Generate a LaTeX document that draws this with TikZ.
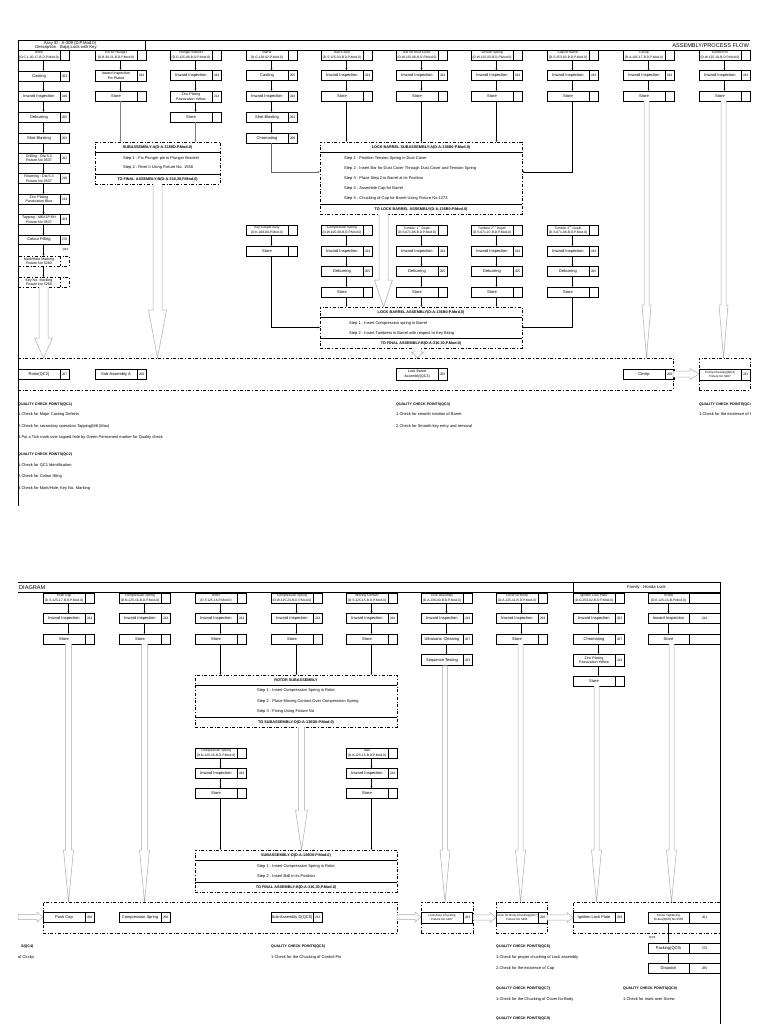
\documentclass[tikz,border=0pt]{standalone}
\usepackage{fontspec}
\setmainfont{Liberation Sans}
\usetikzlibrary{arrows.meta, positioning, calc}

\newcommand{\hdfont}{\fontsize{3}{3.6}\selectfont}
\newcommand{\partfont}{\fontsize{3.3}{3.8}\selectfont}
\newcommand{\boxfont}{\fontsize{4}{4.5}\selectfont}
\newcommand{\twofont}{\fontsize{3.6}{4.1}\selectfont}
\newcommand{\codefont}{\fontsize{3.4}{4}\selectfont}
\newcommand{\assyfont}{\fontsize{4.2}{4.6}\selectfont}
\newcommand{\sahfont}{\fontsize{3.8}{4.2}\selectfont}
\newcommand{\qcfont}{\fontsize{4}{4.5}\selectfont}
\newcommand{\qchfont}{\fontsize{3.6}{4}\selectfont}
\newcommand{\titlefont}{\fontsize{5.6}{6}\selectfont}

% Prozesskasten: Rahmen, Trennstrich, Text, Code
\newcommand{\procbox}[6][]{%
  \node[pbox,#1] (#2) at (#3,#4) {};
  \draw[line width=0.7pt,#1] ([xshift=-9pt]#2.north east) -- ([xshift=-9pt]#2.south east);
  \node[ptext] (#2t) at ([xshift=-4.5pt]#2.center) {#5};
  \node[pcode] (#2k) at ([xshift=-4.5pt]#2.east) {#6};}
% breiter Kasten (Schraube)
\newcommand{\procwide}[6][]{%
  \node[pbox,minimum width=41pt,#1] (#2) at (#3,#4) {};
  \node[ptext] (#2t) at (#2.center) {#5};
  \node[pbox,minimum width=31pt,#1] (#2c) at (#2.north east) {};
  \node[pcode] (#2k) at (#2c.center) {#6};}
% Teilekopf
\newcommand{\partbox}[5]{\procbox{#1}{#2}{#3}{\partfont #4\\\partfont (#5)}{}}
% Unterbaugruppe
\newcommand{\subbox}[7]{%
  \node[sabox, minimum width=#4pt, minimum height=#5pt] (#1) at (#2,#3) {};
  \draw[line width=0.6pt] ([yshift=-10.5pt]#1.north west) -- ([yshift=-10.5pt]#1.north east);
  \draw[line width=0.6pt] ([yshift=9.5pt]#1.south west) -- ([yshift=9.5pt]#1.south east);
  \node[sahead] (#1h) at ([yshift=-5.25pt]#1.north) {#6};
  \node[sahead] (#1f) at ([yshift=4.75pt]#1.south) {#7};}
% Hohlpfeile
\newcommand{\vhollow}[5]{%
  \path[hollow] let \p1=#1, \p2=#2 in
    (\x1-#3pt,\y1) -- (\x1-#3pt,\y2+#5pt) -- (\x1-#4pt,\y2+#5pt) -- (\x1,\y2)
    -- (\x1+#4pt,\y2+#5pt) -- (\x1+#3pt,\y2+#5pt) -- (\x1+#3pt,\y1);}
\newcommand{\hhollow}[5]{%
  \path[hollow] let \p1=#1, \p2=#2 in
    (\x1,\y1+#3pt) -- (\x2-#5pt,\y1+#3pt) -- (\x2-#5pt,\y1+#4pt) -- (\x2,\y1)
    -- (\x2-#5pt,\y1-#4pt) -- (\x2-#5pt,\y1-#3pt) -- (\x1,\y1-#3pt) -- cycle;}

\begin{document}
\begin{tikzpicture}[x=1pt, y=-1pt,
    pbox/.style={draw, line width=0.7pt, minimum width=51pt, minimum height=10pt, inner sep=0pt, outer sep=0pt, anchor=north west},
    ptext/.style={font=\boxfont, align=center, inner sep=0pt},
    pcode/.style={font=\codefont, inner sep=0pt},
    flow/.style={-{Latex[length=2.2pt,width=1.8pt]}, line width=0.35pt},
    sabox/.style={draw, dash dot, line width=0.6pt, inner sep=0pt, outer sep=0pt, anchor=north west},
    sahead/.style={font=\sahfont\bfseries, inner sep=0pt},
    stp/.style={font=\boxfont, anchor=west, inner sep=0pt},
    band/.style={draw, dash dot, line width=0.6pt, inner sep=0pt, outer sep=0pt, anchor=north west},
    hollow/.style={draw=gray!65, fill=white, line width=0.5pt},
    qchead/.style={font=\qchfont\bfseries, anchor=west, inner sep=0pt},
    qcline/.style={font=\qcfont, anchor=west, inner sep=0pt},
    frame/.style={line width=0.8pt}]
  % Bildbereich
  \fill[white] (0,0) rectangle (768,1024);
  \useasboundingbox (0,0) rectangle (768,1024);

  %%%%%%%%%% obere Haelfte %%%%%%%%%%
  % Kopfzeile
  \draw[frame] (18,40) -- (750,40);
  \draw[frame] (18,50) -- (750,50);
  \draw[frame] (145,40) -- (145,50);
  \draw[frame] (18,40) -- (18,506);
  \node[font=\assyfont, inner sep=0pt] (assy) at (70,43) {Assy ID : A-309 (D.P.Mod.0)};
  \node[font=\assyfont, inner sep=0pt] (desc) at (66,47.6) {Description : Bajaj Lock with Key};
  \node[font=\titlefont, anchor=east, inner sep=0pt] (titleA) at (749,45.3) {ASSEMBLY/PROCESS FLOW};

  % Spalte 1: Rotor
  \partbox{rot}{18}{50}{Rotor}{D.C.1-30-17-B.D.P.Mod.0}
  \procbox{rotA}{18}{71}{Casting}{J03}
  \procbox{rotB}{18}{91.5}{Inward Inspection}{J40}
  \procbox{rotC}{18}{112}{Deburring}{J05}
  \procbox{rotD}{18}{133}{Shot Blasting}{J03}
  \procbox{rotE}{18}{153}{\twofont Drilling : Dia 5.3\\\twofont Fixture No 0537}{J02}
  \procbox{rotF}{18}{173.5}{\twofont Reaming : Dia 5.3\\\twofont Fixture No 0537}{J10}
  \procbox{rotG}{18}{194}{\twofont Zinc Plating\\\twofont Passivation Blue}{J14}
  \procbox{rotH}{18}{214.5}{\twofont Tapping : M6X1P-6H\\\twofont Fixture No 0537}{J03}
  \procbox[minimum height=8.5pt]{rotI}{18}{235.5}{Colour Filling}{J70}
  \procbox[dash dot]{rotJ}{18}{256}{\twofont Mark/Hole Marking\\\twofont Fixture No 5260}{}
  \procbox[dash dot]{rotK}{18}{277}{\twofont Key No. Marking\\\twofont Fixture No 5269}{}
  \foreach \a/\b in {rot/rotA, rotA/rotB, rotB/rotC, rotC/rotD, rotD/rotE, rotE/rotF,
                     rotF/rotG, rotG/rotH, rotH/rotI, rotI/rotJ, rotJ/rotK}
    \draw[flow] (\a) -- (\b);
  \node[font=\hdfont, anchor=east, inner sep=0pt] (qcone) at (69,250) {QC1};

  % Spalte 2 und 3: Stift und Halter
  \partbox{pin}{95}{50}{Pin for Plunger}{D.B.30-21-B.D.P.Mod.0}
  \procbox[minimum height=11pt]{pinA}{95}{70}{\twofont Inward Inspection\\\twofont Pin Plated}{J44}
  \procbox{pinB}{95}{91.5}{Store}{}
  \draw[flow] (pin) -- (pinA);
  \draw[flow] (pinA) -- (pinB);
  \partbox{brk}{170}{50}{Plunger Bracket}{D.G.125-06-B.D.P.Mod.0}
  \procbox{brkA}{170}{70.5}{Inward Inspection}{J44}
  \procbox[minimum height=11pt]{brkB}{170}{91}{\twofont Zinc Plating\\\twofont Passivation Yellow}{J14}
  \procbox{brkC}{170}{112}{Store}{}
  \draw[flow] (brk) -- (brkA);
  \draw[flow] (brkA) -- (brkB);
  \draw[flow] (brkB) -- (brkC);

  % Spalte 4: Zylinder
  \partbox{brl}{246}{50}{Barrel}{D.G.128-02-P.Mod.0}
  \procbox{brlA}{246}{70.5}{Casting}{J05}
  \procbox{brlB}{246}{91}{Inward Inspection}{J44}
  \procbox{brlC}{246}{112}{Shot Blasting}{J03}
  \procbox{brlD}{246}{133}{Chromating}{J06}
  \foreach \a/\b in {brl/brlA, brlA/brlB, brlB/brlC, brlC/brlD}
    \draw[flow] (\a) -- (\b);

  % Zukaufteile: Pruefung und Lager
  \foreach \cx/\cn/\cp/\cd in {321/dst/Dust Cover/D.S.125-03-B.D.P.Mod.0,
      396/bdc/Bar for Dust Cover/D.W.125-06-B.D.P.Mod.0,
      471/tsp/Tension Spring/D.W.125-03-B.D.P.Mod.0,
      547/cap/Cap for Barrel/D.S.253-02-B.D.P.Mod.0,
      623/clp/Circlip/D.A.105-17-B.D.P.Mod.0,
      699/cpn/Control Pin/D.W.125-10-B.D.P.Mod.0}{
    \partbox{\cn}{\cx}{50}{\cp}{\cd}
    \procbox{\cn I}{\cx}{70.5}{Inward Inspection}{J44}
    \procbox{\cn S}{\cx}{91}{Store}{}
    \draw[flow] (\cn) -- (\cn I);
    \draw[flow] (\cn I) -- (\cn S);
  }

  % Unterbaugruppe A
  \subbox{saA}{95}{142}{125}{42}{SUBASSEMBLY-A(D-A-3158D.P.Mod.0)}{TO FINAL ASSEMBLY-B(D-A-316,30,P.Mod.0)}
  \node[stp] (saAa) at (123,158) {Step 1 : Fix Plunger pin in Plunger Bracket};
  \node[stp] (saAb) at (123,167.5) {Step 2 : Rivet it Using Fixture No. 1558};
  \draw[flow, gray] (pinB) -- (pinB |- saA.north);
  \draw[flow, gray] (brkC) -- (brkC |- saA.north);

  % Unterbaugruppe Schliesszylinder
  \subbox{saB}{320}{142}{202}{72}{LOCK BARREL SUBASSEMBLY-A(D-A-136B0-P.Mod.0)}{TO LOCK BARREL ASSEMBLY(D-A-136B0-P.Mod.0)}
  \node[stp] (saBa) at (344,158) {Step 1 : Position Tension Spring in Dust Cover};
  \node[stp] (saBb) at (344,168) {Step 2 : Insert Bar for Dust Cover Through Dust Cover and Tension Spring};
  \node[stp] (saBc) at (344,178) {Step 3 : Place Step 2 in Barrel at its Position};
  \node[stp] (saBd) at (344,188) {Step 4 : Assemble Cap for Barrel};
  \node[stp] (saBe) at (344,198) {Step 5 : Chucking of Cap for Barrel Using Fixture No 1273};
  \foreach \n in {dstS, bdcS, tspS}
    \draw[flow] (\n) -- (\n |- saB.north);
  \draw[flow, gray!80!black] (brlD) |- ([yshift=6pt]saB.west);
  \draw[flow] (capS) |- ([yshift=6pt]saB.east);

  % zweite Reihe
  \partbox{kca}{246}{225}{Key Couple Assy}{D.K.108-00-P.Mod.0}
  \procbox{kcaS}{246}{246}{Store}{}
  \draw[flow] (kca) -- (kcaS);
  \foreach \cx/\cn/\cp/\cd in {321/csp/Compression Spring/D.W.105-08-B.D.P.Mod.0,
      396/tba/Tumbler 1\textsuperscript{st} Depth/D.S.071-06-B.D.P.Mod.0,
      471/tbb/Tumbler 2\textsuperscript{nd} Depth/D.S.071-07-B.D.P.Mod.0,
      547/tbc/Tumbler 3\textsuperscript{rd} Depth/D.S.071-08-B.D.P.Mod.0}{
    \partbox{\cn}{\cx}{225}{\cp}{\cd}
    \procbox{\cn I}{\cx}{246}{Inward Inspection}{J44}
    \procbox{\cn D}{\cx}{266.5}{Deburring}{J05}
    \procbox{\cn S}{\cx}{287}{Store}{}
    \draw[flow] (\cn) -- (\cn I);
    \draw[flow] (\cn I) -- (\cn D);
    \draw[flow] (\cn D) -- (\cn S);
  }

  % Schliesszylinder-Baugruppe
  \subbox{laB}{320}{307}{202}{41}{LOCK BARREL ASSEMBLY(D-A-136B0-P.Mod.0)}{TO FINAL ASSEMBLY-B(D-A-316,30,P.Mod.0)}
  \node[stp] (laBa) at (349,323) {Step 1 : Insert Compression spring in Barrel};
  \node[stp] (laBb) at (349,333) {Step 2 : Insert Tumblers in Barrel with respect to Key Biting};
  \foreach \n in {cspS, tbaS, tbbS}
    \draw[flow] (\n) -- (\n |- laB.north);
  \draw[flow] (kcaS) |- (laB.west);
  \draw[flow] (tbcS) |- (laB.east);

  % Pruefband oben
  \node[band, minimum width=655pt, minimum height=32pt] (bandT) at (18,358) {};
  \node[band, minimum width=51pt, minimum height=32pt] (bandR) at (699,358) {};
  \procbox{rotQ}{18}{369}{Rotor(QC2)}{J07}
  \procbox{subA}{95}{369}{Sub-Assembly A}{J08}
  \procbox[minimum height=12pt]{lbaQ}{396}{368}{\twofont Lock Barrel\\\twofont Assembly(QC3)}{J03}
  \procbox{clpQ}{623}{369}{Circlip}{J08}
  \procbox[minimum height=11pt]{cpnQ}{699}{369}{\hdfont Circlip Checking(QC4)\\\hdfont Fixture No 5487}{J33}

  % Hohlpfeile oben
  \vhollow{(rotK.south)}{(bandT.north)}{4.5}{9}{20}
  \vhollow{(saA.south)}{(bandT.north)}{4.5}{9}{48}
  \vhollow{([xshift=-37.5pt]saB.south)}{(laB.north)}{4.5}{9}{27}
  \vhollow{([xshift=-3.5pt]laB.south)}{(bandT.north)}{3.5}{6}{6}
  \vhollow{([xshift=-2pt]clpS.south)}{(bandT.north)}{2.5}{4.5}{53}
  \vhollow{([xshift=-1pt]cpnS.south)}{(bandR.north)}{2.5}{4.5}{53}
  \hhollow{(bandT.east |- clpQ.east)}{(cpnQ.west)}{3}{5.5}{9}

  % Pruefpunkte oben
  \node[qchead] (qa0) at (18,405) {QUALITY CHECK POINTS(QC1)};
  \node[qcline] (qa1) at (18,414.5) {1.Check for Major Casting Defects};
  \node[qcline] (qa2) at (18,426) {2.Check for secondary operation Tapping(M6 (Max)};
  \node[qcline] (qa3) at (18,437.5) {3.Put a Tick mark over tapped hole by Green Permanent marker for Quality check};
  \node[qchead] (qb0) at (18,454.5) {QUALITY CHECK POINTS(QC2)};
  \node[qcline] (qb1) at (18,465) {1.Check for QC1 Identification};
  \node[qcline] (qb2) at (18,476.5) {2.Check for Colour filling};
  \node[qcline] (qb3) at (18,488) {3.Check for Mark/Hole, Key No. Marking};
  \node[qchead] (qc0) at (396,405) {QUALITY CHECK POINTS(QC3)};
  \node[qcline] (qc1) at (396,414.5) {1.Check for smooth rotation of Barrel};
  \node[qcline] (qc2) at (396,426) {2.Check for Smooth key entry and removal};
  \begin{scope}
    \clip (699,398) rectangle (750,420);
    \node[qchead] (qd0) at (699,405) {QUALITY CHECK POINTS(QC4)};
    \node[qcline] (qd1) at (699,414.5) {1.Check for the existence of Circlip};
  \end{scope}

  %%%%%%%%%% untere Haelfte %%%%%%%%%%
  \draw[frame] (18,582) -- (720,582);
  \draw[frame] (18,592) -- (720,592);
  \draw[frame] (573,582) -- (573,592);
  \draw[frame] (720,582) -- (720,1024);
  \node[font=\titlefont, anchor=west, inner sep=0pt] (titleB) at (19,587.3) {DIAGRAM};
  \node[font=\assyfont, inner sep=0pt] (family) at (646.5,587) {Family : Honda Lock};

  % Zukaufteile unten
  \foreach \cx/\cn/\cp/\cd in {43/pcp/Push Cap/D.S.125-17-B.D.P.Mod.0,
      119/csq/Compression Spring/D.N.125-16-B.D.P.Mod.0,
      195/rtr/Rotor/D.F.125-16-P.Mod.0,
      271/csr/Compression Spring/D.W.125-23-B.D.P.Mod.0,
      346/mvc/Moving Contact/D.S.125-15-B.D.P.Mod.0,
      496/cfb/Cover for Body/D.A.125-11-B.D.P.Mod.0}{
    \partbox{\cn}{\cx}{593}{\cp}{\cd}
    \procbox{\cn I}{\cx}{613.5}{Inward Inspection}{J44}
    \procbox{\cn S}{\cx}{634}{Store}{}
    \draw[flow] (\cn) -- (\cn I);
    \draw[flow] (\cn I) -- (\cn S);
  }
  % Schloss
  \partbox{lck}{421}{593}{Lock Assembly}{D.A.136-00-B.D.P.Mod.0}
  \procbox{lckI}{421}{613.5}{Inward Inspection}{J44}
  \procbox{lckU}{421}{634}{Ultrasonic Cleaning}{J07}
  \procbox[minimum height=11pt]{lckT}{421}{654.5}{Sequence Testing}{J03}
  \foreach \a/\b in {lck/lckI, lckI/lckU, lckU/lckT}
    \draw[flow] (\a) -- (\b);
  % Zuendschlossplatte
  \partbox{ilp}{573}{593}{Ignition Lock Plate}{D.G.253-02-B.D.P.Mod.0}
  \procbox{ilpI}{573}{613.5}{Inward Inspection}{J02}
  \procbox{ilpC}{573}{634}{Chromating}{J07}
  \procbox[minimum height=12pt]{ilpZ}{573}{654}{\twofont Zinc Plating\\\twofont Passivation Yellow}{J14}
  \procbox{ilpS}{573}{676}{Store}{}
  \foreach \a/\b in {ilp/ilpI, ilpI/ilpC, ilpC/ilpZ, ilpZ/ilpS}
    \draw[flow] (\a) -- (\b);
  % Schraube
  \procwide{scr}{648}{593}{\partfont Screw\\\partfont (D.K.125-13-B.P.Mod.0)}{}
  \procwide{scrI}{648}{613.5}{Inward Inspection}{J44}
  \procwide{scrS}{648}{634}{Store}{}
  \draw[flow] (scr) -- (scrI);
  \draw[flow] (scrI) -- (scrS);

  % Rotor-Unterbaugruppe
  \subbox{rsb}{195}{675}{202}{52}{ROTOR SUBASSEMBLY}{TO SUBASSEMBLY-D(D-A-136D0-P.Mod.0)}
  \node[stp] (rsba) at (257,690.5) {Step 1 : Insert Compression Spring in Rotor};
  \node[stp] (rsbb) at (257,701) {Step 2 : Place Moving Contact Over Compression Spring};
  \node[stp] (rsbc) at (257,711) {Step 3 : Fixing Using Fixture No};
  \foreach \n in {rtrS, csrS, mvcS}
    \draw[flow] (\n) -- (\n |- rsb.north);

  \partbox{csb}{195}{748}{Compression Spring}{D.N.125-16-B.D.P.Mod.0}
  \procbox{csbI}{195}{768.5}{Inward Inspection}{J44}
  \procbox{csbS}{195}{788.5}{Store}{}
  \partbox{bal}{346}{748}{Ball}{D.K.125-15-B.D.P.Mod.0}
  \procbox{balI}{346}{768.5}{Inward Inspection}{J44}
  \procbox{balS}{346}{788.5}{Store}{}
  \foreach \a/\b in {csb/csbI, csbI/csbS, bal/balI, balI/balS}
    \draw[flow] (\a) -- (\b);

  % Unterbaugruppe D
  \subbox{sdd}{195}{850}{202}{42}{SUBASSEMBLY-D(D-A-136D0-P.Mod.0)}{TO FINAL ASSEMBLY-B(D-A-316,30,P.Mod.0)}
  \node[stp] (sdda) at (257,866) {Step 1 : Insert Compression Spring in Rotor};
  \node[stp] (sddb) at (257,876) {Step 2 : Insert Ball in its Position};
  \draw[flow] (csbS) -- (csbS |- sdd.north);
  \draw[flow] (balS) -- (balS |- sdd.north);

  % Pruefbaender unten
  \node[band, minimum width=354pt, minimum height=31pt] (bnd1) at (43,902) {};
  \node[band, minimum width=52pt, minimum height=31pt] (bnd2) at (421,902) {};
  \node[band, minimum width=51pt, minimum height=31pt] (bnd3) at (496,902) {};
  \node[band, minimum width=147pt, minimum height=31pt] (bnd4) at (573,902) {};
  \procbox{pcpQ}{43}{912}{Push Cap}{J08}
  \procbox{csqQ}{119}{912}{Compression Spring}{J08}
  \procbox{sddQ}{271}{912}{Sub-Assembly D(QC5)}{J33}
  \procbox[minimum height=11pt]{lckQ}{421}{912}{\hdfont Lock Assy Chucking\\\hdfont Fixture No 1487}{J03}
  \procbox[minimum height=11pt]{cfbQ}{496}{912}{\hdfont Cover for Body Chucking(QC7)\\\hdfont Fixture No 5491}{J08}
  \procbox{ilpQ}{573}{912}{Ignition Lock Plate}{J09}
  \procwide[minimum height=11pt]{scrQ}{648}{912}{\hdfont Screw Tightening\\\hdfont Fixture(QC8) No 5556}{J01}
  \node[font=\hdfont, anchor=west, inner sep=0pt] (qcnine) at (649,937.5) {QC9};
  \procwide{pck}{648}{943}{Packing(QC9)}{J70}
  \procwide{dsp}{648}{963}{Dispatch}{J85}
  \draw[flow] (scrQ) -- (pck);
  \draw[flow] (pck) -- (dsp);

  % Hohlpfeile unten
  \vhollow{(pcpS.south)}{(bnd1.north)}{3}{5}{52}
  \vhollow{(csqS.south)}{(bnd1.north)}{3}{5}{52}
  \vhollow{([xshift=5.5pt]rsb.south)}{(sdd.north)}{2.8}{6}{40}
  \vhollow{([xshift=-1.5pt]lckT.south)}{(bnd2.north)}{2.5}{5}{52}
  \vhollow{([xshift=-1pt]cfbS.south)}{(bnd3.north)}{2.5}{5}{52}
  \vhollow{([xshift=-2pt]ilpS.south)}{(bnd4.north)}{2.5}{5}{52}
  \vhollow{([xshift=3pt]scrS.south)}{(bnd4.north)}{2.5}{5}{52}
  \coordinate (inL) at (18,917);
  \hhollow{(inL)}{(bnd1.west |- pcpQ.west)}{2.7}{5}{6}
  \hhollow{(bnd1.east |- sddQ.east)}{(bnd2.west |- lckQ.west)}{2.7}{5}{6}
  \hhollow{(bnd2.east |- lckQ.east)}{(bnd3.west |- cfbQ.west)}{2.7}{5}{6}
  \hhollow{(bnd3.east |- cfbQ.east)}{(bnd4.west |- ilpQ.west)}{2.7}{5}{6}

  % Pruefpunkte unten (Rest vom oberen Blatt)
  \node[qchead, anchor=east] (qe0) at (33.5,947) {S(QC4)};
  \node[qcline, anchor=east] (qe1) at (34,957) {of Circlip};
  \node[qchead] (qf0) at (271,947) {QUALITY CHECK POINTS(QC5)};
  \node[qcline] (qf1) at (271,957) {1.Check for the Chucking of Control Pin};
  \node[qchead] (qg0) at (496,947) {QUALITY CHECK POINTS(QC6)};
  \node[qcline] (qg1) at (496,957.5) {1.Check for proper chucking of Lock assembly};
  \node[qcline] (qg2) at (496,968) {2.Check for the existence of Cap};
  \node[qchead] (qh0) at (496,988.5) {QUALITY CHECK POINTS(QC7)};
  \node[qcline] (qh1) at (496,999) {1.Check for the Chucking of Cover for Body};
  \node[qchead] (qi0) at (496,1019) {QUALITY CHECK POINTS(QC9)};
  \node[qchead] (qj0) at (623,988.5) {QUALITY CHECK POINTS(QC8)};
  \node[qcline] (qj1) at (623,999) {1.Check for mark over Screw};
\end{tikzpicture}
\end{document}
